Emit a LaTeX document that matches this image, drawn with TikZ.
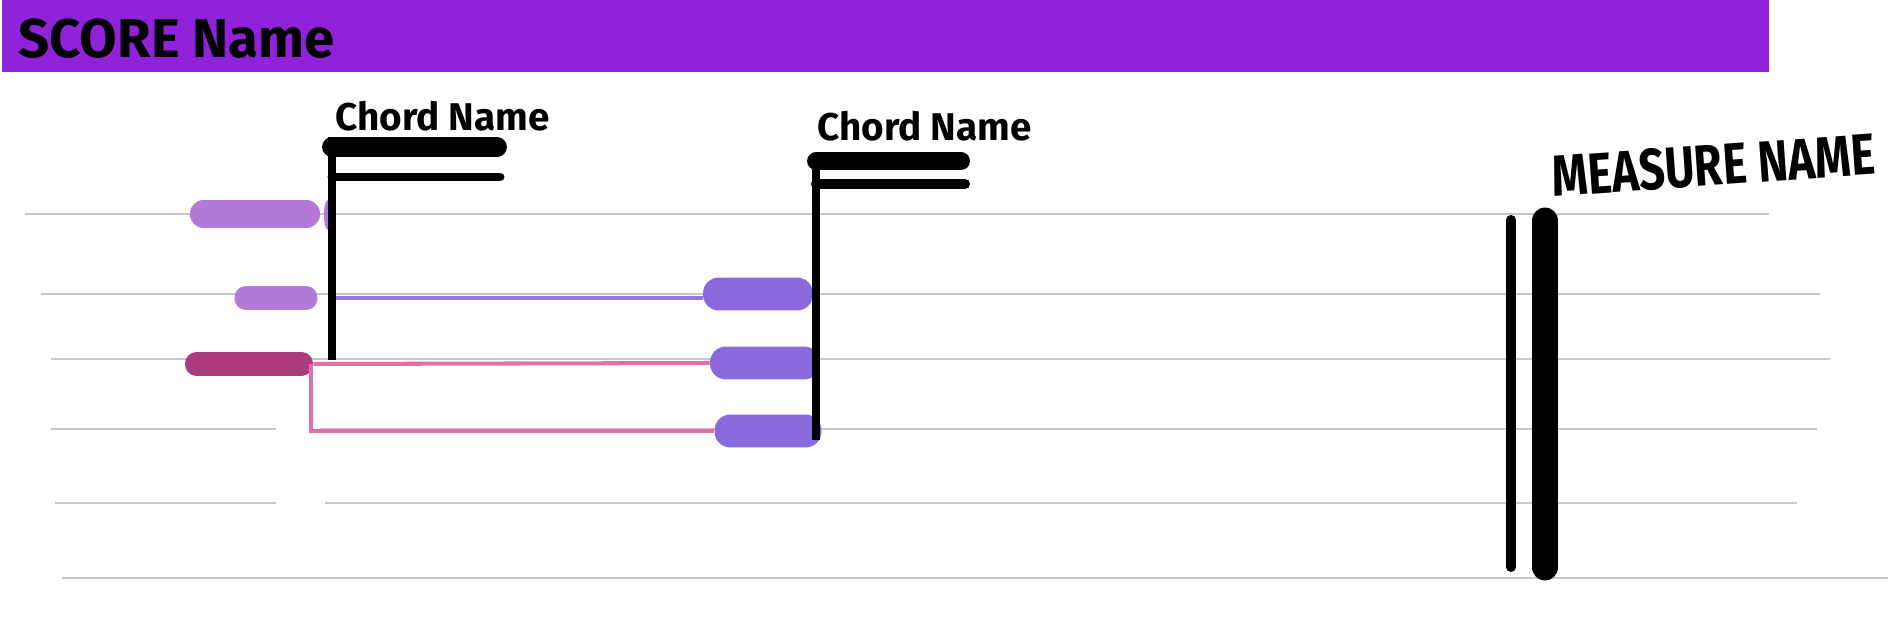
\documentclass[tikz,border=0pt]{standalone}
\usepackage{fontspec}
\setmainfont{Fira Sans}
\usetikzlibrary{positioning}
\definecolor{sbanner}{HTML}{9023DA}
\definecolor{sgrey}{HTML}{C9C5CD}
\definecolor{lilac}{HTML}{B279D8}
\definecolor{violet}{HTML}{8A69DD}
\definecolor{plum}{HTML}{AC3B80}
\definecolor{tiepink}{HTML}{E070AA}
\definecolor{tieviolet}{HTML}{9575E0}

\begin{document}
\begin{tikzpicture}[
  x=0.02cm,y=-0.02cm,
  every node/.style={font=\bfseries},
  staffline/.style={sgrey,line width=1.7pt},
  notehead/.style={rectangle,rounded corners=0.23cm,inner sep=0pt,minimum height=0.48cm},
  bignote/.style={notehead,fill=violet,rounded corners=0.32cm,minimum height=0.66cm},
  stem/.style={black,line width=5.1pt},
  beam/.style={black,line cap=round},
  barline/.style={black,line cap=round},
  lbl/.style={font=\bfseries\fontsize{22}{24}\selectfont,inner sep=0pt},
  pinktie/.style={tiepink,line width=2.3pt},
  violettie/.style={tieviolet,line width=2.8pt}
]
\useasboundingbox (0,0) rectangle (1893,628);

% title bar
\fill[sbanner] (2,0) rectangle (1769,72);
\node[anchor=west,inner sep=0pt,font=\bfseries\fontsize{31}{34}\selectfont] (score) at (18,39) {SCORE Name};

% staff
\foreach \y/\xa/\xb in {214/25/1769,294/41/1820,359/51/1830,429/51/276,429/320/1817,
                        503/55/276,503/325/1797,578/62/1888}
  \draw[staffline] (\xa,\y) -- (\xb,\y);

% notes
\node[notehead,fill=lilac,minimum width=2.6cm,minimum height=0.56cm,rounded corners=0.27cm] (nA) at (255,214) {};
\fill[lilac] (328,215) ellipse (4 and 15);
\node[notehead,fill=lilac,minimum width=1.66cm] (nB) at (276,298) {};
\node[notehead,fill=plum,minimum width=2.56cm] (nC) at (249,364) {};
\node[bignote,minimum width=2.2cm] (nD) at (758,294) {};
\node[bignote,minimum width=2.2cm] (nE) at (765,363) {};
\node[bignote,minimum width=2.14cm] (nF) at (768,431) {};

% ties
\draw[violettie] (nB.east) ++(18,0) -- (nD.west |- nB.east);
\draw[pinktie] (nC.east) -- (nE.west);
\draw[pinktie] ([xshift=-0.04cm]nC.east) |- (nF.west);

% chords
\coordinate (st1) at (332,137);
\coordinate (sb1) at (332,360);
\coordinate (st2) at (816,157);
\coordinate (sb2) at (816,440);
\draw[stem] (st1) -- (sb1);
\draw[beam,line width=11.3pt] (332,147) -- (497,147);
\draw[beam,line width=5.1pt] (332,177) -- (500,177);
\draw[stem] (st2) -- (sb2);
\draw[beam,line width=10.2pt] (816,161) -- (961,161);
\draw[beam,line width=5.7pt] (816,184) -- (965,184);
\node[lbl,above right=0.1cm and 0.06cm of st1] (c1) {Chord Name};
\node[lbl,above right=0.3cm and 0.02cm of st2] (c2) {Chord Name};

% measure end
\draw[barline,line width=5.7pt] (1511,220) -- (1511,567);
\draw[barline,line width=15.3pt] (1545,221) -- (1545,567);
\node[anchor=south west,inner sep=0pt,rotate=4,xscale=0.79,font=\bfseries\fontsize{33}{36}\selectfont] (mname) at (1553,198) {MEASURE NAME};
\end{tikzpicture}
\end{document}
